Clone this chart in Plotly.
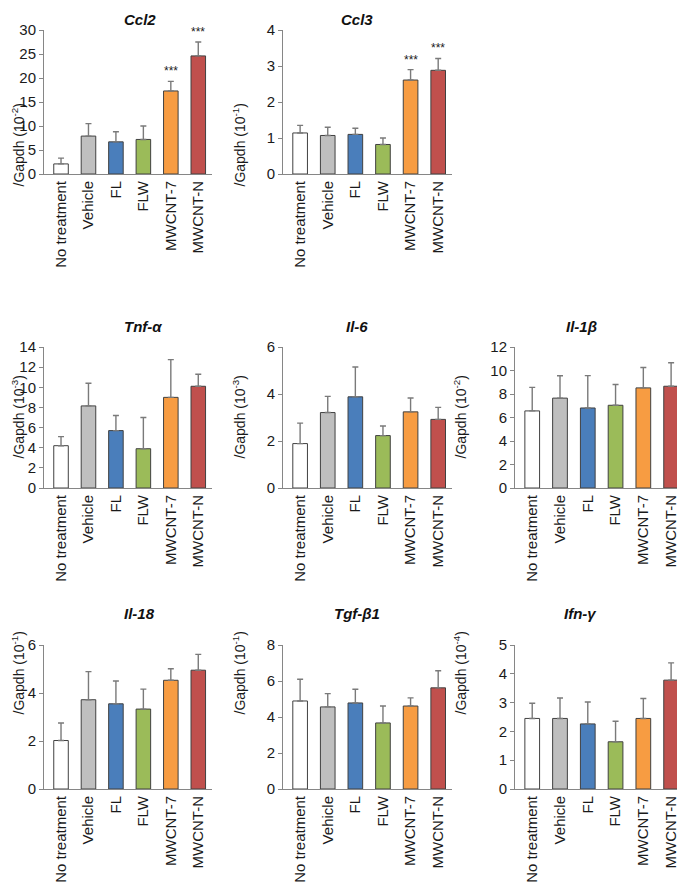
import plotly.graph_objects as go

groups = ['No treatment', 'Vehicle', 'FL', 'FLW', 'MWCNT-7', 'MWCNT-N']
bar_colors = ['#ffffff', '#bfbfbf', '#4a7ebb', '#9bbb59', '#f79c42', '#c0504d']

genes = ['Ccl2', 'Ccl3', 'Tnf-α', 'Il-6', 'Il-1β', 'Il-18', 'Tgf-β1', 'Ifn-γ']
exponents = ['-2', '-1', '-3', '-3', '-2', '-1', '-1', '-4']
y_max = [30, 4, 14, 6, 12, 6, 8, 5]
y_step = [5, 1, 2, 2, 2, 2, 2, 1]

# mean and upper error (SD)
ccl2_mean = [2.1, 7.9, 6.7, 7.2, 17.3, 24.6]
ccl2_err = [1.2, 2.6, 2.1, 2.8, 2.0, 2.9]
ccl3_mean = [1.14, 1.07, 1.10, 0.82, 2.61, 2.88]
ccl3_err = [0.21, 0.23, 0.17, 0.18, 0.29, 0.33]
tnf_mean = [4.2, 8.15, 5.7, 3.9, 9.0, 10.1]
tnf_err = [0.9, 2.25, 1.5, 3.1, 3.75, 1.2]
il6_mean = [1.89, 3.21, 3.88, 2.23, 3.24, 2.92]
il6_err = [0.87, 0.69, 1.27, 0.41, 0.59, 0.51]
il1b_mean = [6.56, 7.65, 6.81, 7.04, 8.52, 8.66]
il1b_err = [2.0, 1.9, 2.75, 1.77, 1.74, 2.0]
il18_mean = [2.02, 3.72, 3.55, 3.33, 4.53, 4.95]
il18_err = [0.73, 1.17, 0.95, 0.83, 0.48, 0.66]
tgf_mean = [4.89, 4.56, 4.78, 3.67, 4.61, 5.62]
tgf_err = [1.21, 0.74, 0.76, 0.94, 0.45, 0.95]
ifn_mean = [2.45, 2.45, 2.26, 1.64, 2.45, 3.78]
ifn_err = [0.53, 0.71, 0.76, 0.71, 0.69, 0.6]

means = [ccl2_mean, ccl3_mean, tnf_mean, il6_mean, il1b_mean, il18_mean, tgf_mean, ifn_mean]
errs = [ccl2_err, ccl3_err, tnf_err, il6_err, il1b_err, il18_err, tgf_err, ifn_err]
signif = [['', '', '', '', '***', '***'], ['', '', '', '', '***', '***']] + [[''] * 6] * 6

# page is 685x884, the html body adds an 8px margin
OFF = 8
W, H = 685 - OFF, 884 - OFF

def px_x(x):
    return (x - OFF) / W

def px_y(y):
    return 1 - (y - OFF) / H

# pixel boxes of each panel in page coordinates
rows_px = [(30, 174), (347, 488), (645, 789)]
cols_px = [(44, 212, 7, 122), (283, 452, 239, 357), (515, 685, 471, 599)]
panel_pos = [(0, 0), (0, 1), (1, 0), (1, 1), (1, 2), (2, 0), (2, 1), (2, 2)]

font = 'Liberation Sans, Arial, sans-serif'
axis_gray = '#868686'
text_col = '#1a1a1a'
fig = go.Figure()
annotations = []

for i, gene in enumerate(genes):
    n = i + 1
    xa = 'x' if n == 1 else f'x{n}'
    ya = 'y' if n == 1 else f'y{n}'
    r, c = panel_pos[i]
    y_top, y_zero = rows_px[r]
    x0, x1, ytx, ttx = cols_px[c]

    fig.add_trace(go.Bar(
        x=groups, y=means[i], width=0.53,
        marker=dict(color=bar_colors, line=dict(color='#404040', width=1)),
        error_y=dict(type='data', symmetric=False, array=errs[i], arrayminus=[0] * 6,
                     color='#7a7a7a', thickness=1.4, width=3),
        xaxis=xa, yaxis=ya, showlegend=False))

    fig.update_layout({
        ('xaxis' if n == 1 else f'xaxis{n}'): dict(
            domain=[px_x(x0), min(px_x(x1), 1)], anchor=ya, type='category', range=[-0.62, 5.5],
            showline=True, linecolor=axis_gray, linewidth=1, ticks='', tickangle=-90,
            automargin=False, showgrid=False, zeroline=False,
            tickfont=dict(size=15, color=text_col)),
        ('yaxis' if n == 1 else f'yaxis{n}'): dict(
            domain=[px_y(y_zero), px_y(y_top)], anchor=xa, range=[0, y_max[i]],
            dtick=y_step[i], showline=True, linecolor=axis_gray, linewidth=1,
            ticks='outside', ticklen=4, tickcolor=axis_gray, automargin=False,
            showgrid=False, zeroline=False, tickfont=dict(size=15, color=text_col)),
    })

    # panel title
    annotations.append(dict(text=f'<b><i>{gene}</i></b>', x=px_x(ttx), y=px_y(y_top - 21),
                            xref='paper', yref='paper', showarrow=False,
                            font=dict(size=15, color='#111111')))
    # y axis title
    annotations.append(dict(text=f'/Gapdh (10<sup>{exponents[i]}</sup>)', x=px_x(ytx),
                            y=px_y((y_top + y_zero) / 2), xref='paper', yref='paper',
                            textangle=-90, showarrow=False,
                            font=dict(size=14, color=text_col)))
    # significance marks
    for g, m, e, s in zip(groups, means[i], errs[i], signif[i]):
        if s:
            annotations.append(dict(text=s, x=g, y=m + e, xref=xa, yref=ya, yanchor='bottom',
                                    yshift=1, showarrow=False,
                                    font=dict(size=12, color=text_col)))

fig.update_layout(width=W, height=H, margin=dict(l=0, r=0, t=0, b=0),
                  paper_bgcolor='white', plot_bgcolor='white',
                  font=dict(family=font), annotations=annotations)

fig.write_html('out.html')
